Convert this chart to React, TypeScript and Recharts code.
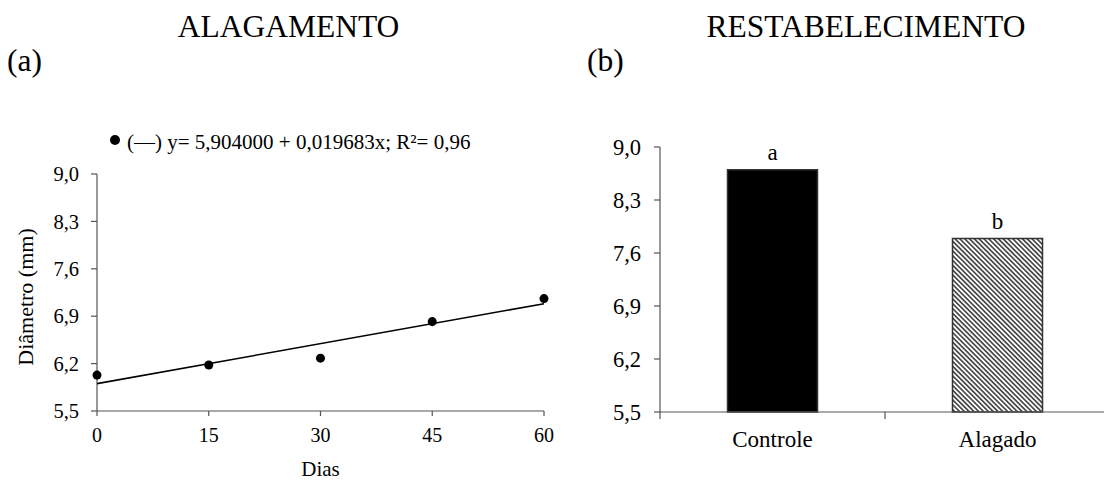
import { Bar, BarChart, Cell, LabelList, Scatter, ScatterChart, XAxis, YAxis, ZAxis } from "recharts";

const FONT = '"Liberation Serif", "Times New Roman", serif';
const AXIS = "#555";

// (a) alagamento
const dias = [0, 15, 30, 45, 60];
const diametro = [6.03, 6.18, 6.28, 6.82, 7.16];
// fitted line y = 5,904 + 0,019683x, read at both ends
const ajusteDias = [0, 60];
const ajusteDiametro = [5.904, 7.085];

// (b) restabelecimento
const tratamentos = ["Controle", "Alagado"];
const diametroFinal = [8.7, 7.79];
const letras = ["a", "b"];

const yTicks = [5.5, 6.2, 6.9, 7.6, 8.3, 9.0];
const xTicks = [0, 15, 30, 45, 60];

const pontos = dias.map((d, i) => ({ dia: d, diametro: diametro[i] }));
const ajuste = ajusteDias.map((d, i) => ({ dia: d, diametro: ajusteDiametro[i] }));
const barras = tratamentos.map((t, i) => ({ nome: t, valor: diametroFinal[i], letra: letras[i] }));

const virgula = (v: number) => v.toFixed(1).replace(".", ",");

const BAR_PLOT_W = 450;

function CategoryTick(props: any) {
  const { x, y, payload, index, visibleTicksCount } = props;
  const band = (props.width || BAR_PLOT_W) / visibleTicksCount;
  return (
    <g>
      {index === 0 && <line x1={x - band / 2} x2={x - band / 2} y1={y} y2={y + 7} stroke={AXIS} strokeWidth={1.2} />}
      <line x1={x + band / 2} x2={x + band / 2} y1={y} y2={y + 7} stroke={AXIS} strokeWidth={1.2} />
      <text
        x={x}
        y={y + 19}
        dy="0.71em"
        textAnchor="middle"
        fontSize={23}
        fontFamily={FONT}
        style={{ fontFamily: FONT }}
        fill="#000"
      >
        {payload.value}
      </text>
    </g>
  );
}

export default function App() {
  return (
    <div
      style={{
        position: "absolute",
        left: 0,
        top: 0,
        width: 1104,
        height: 482,
        overflow: "hidden",
        background: "#fff",
        fontFamily: FONT,
      }}
    >
      <div style={{ position: "absolute", left: 0, top: 0 }}>
        <ScatterChart width={560} height={482} margin={{ top: 174, right: 16, bottom: 41, left: 0 }}>
          <XAxis
            type="number"
            dataKey="dia"
            domain={[0, 60]}
            ticks={xTicks}
            height={30}
            tickSize={5}
            tickMargin={12}
            axisLine={{ stroke: AXIS, strokeWidth: 1.2 }}
            tickLine={{ stroke: AXIS, strokeWidth: 1.2 }}
            tick={{ fill: "#000", fontSize: 20, fontFamily: FONT, style: { fontFamily: FONT } }}
          />
          <YAxis
            type="number"
            dataKey="diametro"
            domain={[5.5, 9]}
            ticks={yTicks}
            width={97}
            tickSize={6}
            tickMargin={12}
            tickFormatter={virgula}
            axisLine={{ stroke: AXIS, strokeWidth: 1.2 }}
            tickLine={{ stroke: AXIS, strokeWidth: 1.2 }}
            tick={{ fill: "#000", fontSize: 20.5, fontFamily: FONT, style: { fontFamily: FONT } }}
          />
          <ZAxis range={[80, 80]} />
          <Scatter
            data={ajuste}
            fill="#000"
            line={{ stroke: "#000", strokeWidth: 1.6 }}
            shape={() => <g />}
            isAnimationActive={false}
          />
          <Scatter data={pontos} fill="#000" isAnimationActive={false} />
        </ScatterChart>
      </div>

      <div style={{ position: "absolute", left: 560, top: 0 }}>
        <BarChart
          width={550}
          height={482}
          data={barras}
          margin={{ top: 147, right: 0, bottom: 30, left: 0 }}
          barCategoryGap="30%"
        >
          <defs>
            <pattern id="hachura" width="3.4" height="3.4" patternUnits="userSpaceOnUse" patternTransform="rotate(45)">
              <rect width="3.4" height="3.4" fill="#fff" />
              <line x1="0" y1="1.7" x2="3.4" y2="1.7" stroke="#111" strokeWidth={1.3} />
            </pattern>
          </defs>
          <XAxis
            dataKey="nome"
            height={40}
            tickLine={false}
            tickSize={0}
            tickMargin={0}
            axisLine={{ stroke: AXIS, strokeWidth: 1.2 }}
            tick={<CategoryTick />}
            interval={0}
          />
          <YAxis
            type="number"
            domain={[5.5, 9]}
            ticks={yTicks}
            width={100}
            tickSize={6}
            tickMargin={13}
            tickFormatter={virgula}
            axisLine={{ stroke: AXIS, strokeWidth: 1.2 }}
            tickLine={{ stroke: AXIS, strokeWidth: 1.2 }}
            tick={{ fill: "#000", fontSize: 22.5, fontFamily: FONT, style: { fontFamily: FONT } }}
          />
          <Bar dataKey="valor" stroke="#333" strokeWidth={1.5} isAnimationActive={false}>
            {barras.map((b, i) => (
              <Cell key={b.nome} fill={i === 0 ? "#000" : "url(#hachura)"} />
            ))}
            <LabelList
              dataKey="letra"
              position="top"
              offset={10}
              fill="#000"
              fontSize={23}
              fontFamily={FONT}
              style={{ fontFamily: FONT }}
            />
          </Bar>
        </BarChart>
      </div>

      <svg
        width={1104}
        height={482}
        style={{ position: "absolute", left: 0, top: 0, pointerEvents: "none", fontFamily: FONT }}
      >
        <text x={288.5} y={37} textAnchor="middle" fontSize={31.5}>ALAGAMENTO</text>
        <text x={866} y={37} textAnchor="middle" fontSize={31.5}>RESTABELECIMENTO</text>
        <text x={7} y={71} fontSize={31.5}>(a)</text>
        <text x={587} y={71} fontSize={31.5}>(b)</text>
        <circle cx={115} cy={140} r={5} fill="#000" />
        <text x={127} y={149} fontSize={21}>(—) y= 5,904000 + 0,019683x; R²= 0,96</text>
        <text x={320.5} y={476} textAnchor="middle" fontSize={21}>Dias</text>
        <text x={33} y={297} textAnchor="middle" fontSize={22} transform="rotate(-90 33 297)">Diâmetro (mm)</text>
      </svg>
    </div>
  );
}
